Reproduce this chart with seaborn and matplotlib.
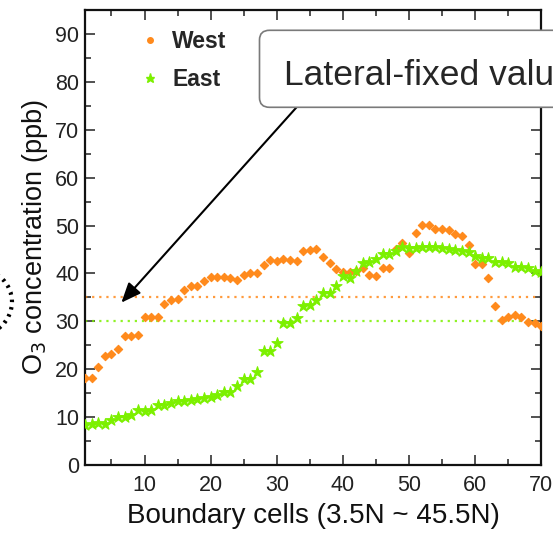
import matplotlib
matplotlib.use("Agg")
import matplotlib.pyplot as plt
from matplotlib import font_manager
from matplotlib.lines import Line2D
from matplotlib.patches import FancyBboxPatch, Ellipse, ArrowStyle
import numpy as np
import pandas as pd
import seaborn as sns

# ---------------- data ----------------
cells = list(range(1, 71))
west = [18.1, 18.1, 20.5, 22.8, 23.1, 24.2, 26.9, 26.9, 27.1, 31.0,
        31.0, 31.0, 33.7, 34.5, 34.6, 36.6, 37.4, 37.3, 38.5, 39.2,
        39.2, 39.2, 39.0, 38.7, 39.6, 40.1, 40.1, 41.8, 42.9, 42.5,
        43.1, 42.9, 42.6, 44.6, 44.9, 45.0, 43.4, 42.2, 41.0, 40.4,
        40.4, 40.6, 41.2, 39.6, 39.4, 41.2, 41.2, 45.0, 46.4, 44.2,
        48.5, 50.2, 50.1, 49.2, 49.2, 49.1, 48.3, 47.8, 46.0, 42.0,
        42.0, 39.1, 33.2, 30.2, 30.9, 31.3, 30.9, 29.9, 29.6, 29.0]
east = [8.4, 8.6, 8.8, 8.6, 9.4, 10.0, 10.0, 10.5, 11.4, 11.2,
        11.4, 12.6, 12.6, 12.9, 13.3, 13.3, 13.5, 13.8, 14.0, 14.2,
        14.6, 15.3, 15.3, 16.4, 17.9, 17.9, 19.5, 23.7, 23.7, 25.4,
        29.7, 29.7, 30.7, 33.2, 33.5, 34.4, 35.9, 35.9, 37.3, 39.4,
        39.1, 40.5, 42.2, 42.4, 43.1, 44.0, 44.0, 44.7, 45.6, 45.3,
        45.4, 45.6, 45.6, 45.5, 45.3, 45.2, 44.8, 44.7, 44.5, 43.6,
        43.3, 43.3, 42.4, 42.3, 42.1, 41.3, 41.3, 41.2, 40.6, 40.3]
series_names = ["West", "East"]
fixed_values = [35, 30]          # lateral-fixed values (West, East)
x_ticks = [10, 20, 30, 40, 50, 60, 70]
y_ticks = [0, 10, 20, 30, 40, 50, 60, 70, 80, 90]
annot_text = "Lateral-fixed value"
arrow_from = (35.4, 78.4)
arrow_to = (6.5, 33.9)

# ---------------- style ----------------
sns.set_theme(style="ticks")
plt.rcParams["font.family"] = ["Liberation Sans", "DejaVu Sans"]

def has_font(name):
    try:
        font_manager.findfont(font_manager.FontProperties(family=name),
                              fallback_to_default=False)
        return True
    except Exception:
        return False

narrow = "Liberation Sans Narrow" if has_font("Liberation Sans Narrow") else None

ORANGE = "#FF8A1C"
GREEN = "#7CF000"
palette = {"West": ORANGE, "East": GREEN}
markers = {"West": "D", "East": "*"}

df = pd.DataFrame({
    "cell": cells * 2,
    "o3": west + east,
    "side": ["West"] * len(cells) + ["East"] * len(cells),
})

W, H = 553, 534
fig = plt.figure(figsize=(W / 100, H / 100), dpi=100)
ax_l, ax_r, ax_t, ax_b = 85, 541.3, 10, 465
ax = fig.add_axes([ax_l / W, 1 - ax_b / H, (ax_r - ax_l) / W, (ax_b - ax_t) / H])

# fixed-value reference lines
for val, name in zip(fixed_values, series_names):
    ax.axhline(val, color=palette[name], lw=1.6, alpha=0.85,
               linestyle=(0, (1, 2.2)), zorder=1)

for name in series_names:
    sub = df[df["side"] == name]
    sns.scatterplot(data=sub, x="cell", y="o3", ax=ax, color=palette[name],
                    marker=markers[name],
                    s=18 if name == "West" else 70,
                    edgecolor=palette[name], linewidth=0.8, legend=False,
                    zorder=3 if name == "West" else 4)

ax.set_xlim(1, 70)
ax.set_ylim(0, 95)
ax.set_xticks(x_ticks)
ax.set_yticks(y_ticks)
ax.set_xticks(np.arange(5, 71, 5), minor=True)
ax.set_yticks(np.arange(5, 95, 5), minor=True)
ax.tick_params(which="both", direction="in", top=True, right=True,
               colors="#222222", width=1.1)
ax.tick_params(which="major", length=7.5, labelsize=15.5)
ax.tick_params(axis="y", which="major", pad=4)
ax.tick_params(axis="x", which="major", pad=7)
ax.tick_params(which="minor", length=4)
for sp in ax.spines.values():
    sp.set_linewidth(1.6)
    sp.set_color("#111111")

ax.set_xlabel("Boundary cells (3.5N ~ 45.5N)", fontsize=20, labelpad=5,
              color="#111111")
ax.set_ylabel("O$_3$ concentration (ppb)", fontsize=19.5, labelpad=4,
              color="#111111")

# legend
handles = [Line2D([], [], ls="none", marker="o", ms=4, color=ORANGE),
           Line2D([], [], ls="none", marker="*", ms=6.5, color=GREEN)]
leg = ax.legend(handles, series_names, loc="upper left",
                bbox_to_anchor=(0.118, 0.955), frameon=False,
                borderpad=0, borderaxespad=0, handlelength=1.0,
                handletextpad=0.45, labelspacing=0.62,
                prop={"weight": "bold", "size": 16.5})

# annotation box (extends beyond the right edge of the figure)
box = FancyBboxPatch((259.5 / W, 1 - 107.3 / H), 400 / W, 77 / H,
                     boxstyle="round,pad=0,rounding_size=0.018",
                     transform=fig.transFigure, facecolor="white",
                     edgecolor="#7a7a7a", lw=1.2, zorder=5, clip_on=False)
fig.add_artist(box)
if narrow:
    fig.text(285 / W, 1 - 85 / H, annot_text, family=narrow, fontsize=30,
             va="baseline", ha="left", zorder=6)
else:
    fig.text(284 / W, 1 - 85 / H, annot_text, fontsize=25.5,
             va="baseline", ha="left", zorder=6)

ax.annotate("", xy=arrow_to, xytext=arrow_from, xycoords="data",
            textcoords="data", zorder=7, annotation_clip=False,
            arrowprops=dict(arrowstyle=ArrowStyle("-|>", head_length=0.6,
                                                  head_width=0.25),
                            mutation_scale=20, lw=1.5, color="black",
                            shrinkA=0, shrinkB=0))

# partial dotted circle at the left edge
circ = Ellipse((-22 / W, 1 - 302 / H), 68 / W, 66 / H,
               transform=fig.transFigure, fill=False, edgecolor="black",
               lw=3, linestyle=(0, (0.6, 1.2)), clip_on=False)
fig.add_artist(circ)

fig.savefig("out.png", dpi=100)
